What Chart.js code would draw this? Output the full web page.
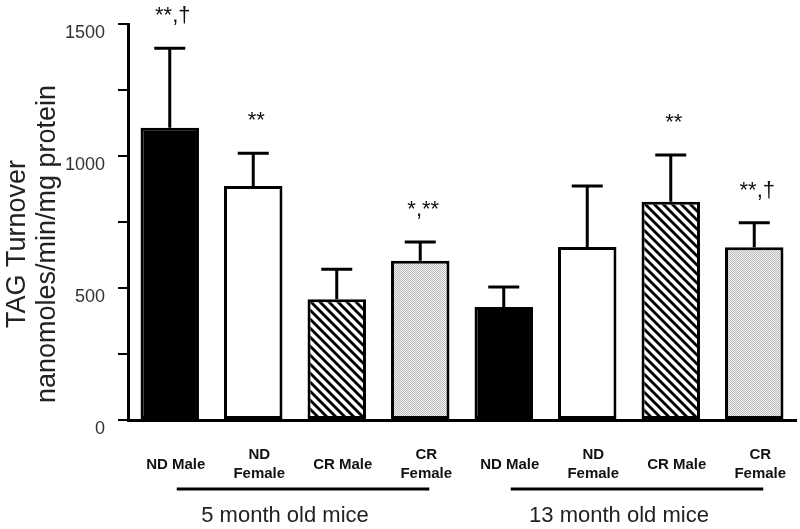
<!DOCTYPE html>
<html><head><meta charset="utf-8">
<script src="https://cdn.jsdelivr.net/npm/chart.js@4"></script>
<style>html,body{margin:0;padding:0;background:#fff}</style>
</head><body>
<canvas id="c" width="800" height="529"></canvas>
<script>
// ---- data ----
const categories = ['ND Male', ['ND', 'Female'], 'CR Male', ['CR', 'Female'], 'ND Male', ['ND', 'Female'], 'CR Male', ['CR', 'Female']];
const meanValues = [1107, 886, 457, 603, 428, 655, 827, 654];
const errorUpper = [1408, 1010, 571, 674, 504, 886, 1004, 747];
const significance = ['**,†', '**', '', '*,**', '', '', '**', '**,†'];
const groupLabels = ['5 month old mice', '13 month old mice'];
const groupFirst = [0, 4];
const groupLast = [3, 7];
const yTitleLines = ['TAG Turnover', 'nanomoles/min/mg protein'];
const yMin = 0, yMax = 1500, yMinorStep = 250, yLabelStep = 500;

// ---- styling ----
const FONT = '"Liberation Sans", Arial, Helvetica, sans-serif';

function hatchPattern() {
  const s = 9, c = document.createElement('canvas');
  c.width = s; c.height = s;
  const g = c.getContext('2d');
  g.fillStyle = '#fff'; g.fillRect(0, 0, s, s);
  g.strokeStyle = '#000'; g.lineWidth = 2.8;
  for (const k of [-s, 0, s]) {
    g.beginPath(); g.moveTo(-2, k - 2); g.lineTo(s + 2, k + s + 2); g.stroke();
  }
  return g.createPattern(c, 'repeat');
}
function dotPattern() {
  const c = document.createElement('canvas');
  c.width = 2; c.height = 2;
  const g = c.getContext('2d');
  g.fillStyle = '#f1f1f1'; g.fillRect(0, 0, 2, 2);
  g.fillStyle = '#bcbcbc'; g.fillRect(0, 0, 1, 1); g.fillRect(1, 1, 1, 1);
  return g.createPattern(c, 'repeat');
}
const kindFills = ['#000000', '#ffffff', hatchPattern(), dotPattern()];
const barFills = categories.map((_, i) => kindFills[i % 4]);

const errorBars = {
  id: 'errorBars',
  afterDatasetsDraw(chart) {
    const ctx = chart.ctx, meta = chart.getDatasetMeta(0), y = chart.scales.y;
    ctx.save();
    ctx.strokeStyle = '#000'; ctx.lineWidth = 3; ctx.lineCap = 'butt';
    meta.data.forEach((bar, i) => {
      const top = y.getPixelForValue(errorUpper[i]);
      ctx.beginPath();
      ctx.moveTo(bar.x, bar.y); ctx.lineTo(bar.x, top);
      ctx.moveTo(bar.x - 15.5, top); ctx.lineTo(bar.x + 15.5, top);
      ctx.stroke();
    });
    ctx.restore();
  }
};

const annotations = {
  id: 'annotations',
  afterDraw(chart) {
    const ctx = chart.ctx, meta = chart.getDatasetMeta(0), x = chart.scales.x, y = chart.scales.y;
    ctx.save();
    // significance marks
    ctx.fillStyle = '#111';
    ctx.font = '22px ' + FONT;
    ctx.textAlign = 'center'; ctx.textBaseline = 'alphabetic';
    meta.data.forEach((bar, i) => {
      if (!significance[i]) return;
      const top = y.getPixelForValue(errorUpper[i]);
      ctx.fillText(significance[i], bar.x + 3, top - 26);
    });
    // group lines and labels
    groupLabels.forEach((lab, g) => {
      const x0 = x.getPixelForValue(groupFirst[g]) + 7;
      const x1 = x.getPixelForValue(groupLast[g]) + 9;
      ctx.strokeStyle = '#000'; ctx.lineWidth = 3;
      ctx.beginPath(); ctx.moveTo(x0, 489); ctx.lineTo(x1, 489); ctx.stroke();
      ctx.fillStyle = '#222';
      ctx.font = '22px ' + FONT;
      ctx.textAlign = 'center'; ctx.textBaseline = 'middle';
      ctx.fillText(lab, (x0 + x1) / 2 - 18, 516);
    });
    // y axis title
    ctx.fillStyle = '#222';
    ctx.font = '27px ' + FONT;
    ctx.textAlign = 'center'; ctx.textBaseline = 'alphabetic';
    const cy = 244;
    [25, 55].forEach((bx, k) => {
      ctx.save();
      ctx.translate(bx, cy);
      ctx.rotate(-Math.PI / 2);
      ctx.fillText(yTitleLines[k], 0, 0);
      ctx.restore();
    });
    ctx.restore();
  }
};

new Chart(document.getElementById('c'), {
  type: 'bar',
  data: {
    labels: categories,
    datasets: [{
      data: meanValues,
      backgroundColor: barFills,
      borderColor: '#000',
      borderWidth: 3,
      borderSkipped: false,
      barPercentage: 0.7,
      categoryPercentage: 1
    }]
  },
  options: {
    responsive: false,
    devicePixelRatio: 1,
    animation: false,
    layout: { padding: { top: 24, right: 4, left: 0, bottom: 0 } },
    plugins: { legend: { display: false }, tooltip: { enabled: false } },
    scales: {
      x: {
        offset: true,
        grid: { display: false },
        border: { display: true, color: '#000', width: 3 },
        ticks: {
          autoSkip: false, maxRotation: 0, minRotation: 0,
          crossAlign: 'center', padding: 27, labelOffset: 6,
          color: '#111',
          font: { family: FONT, size: 15, weight: 'bold', lineHeight: 1.27 }
        },
        afterFit(s) { s.height = 109; s.paddingLeft = 0; s.paddingRight = 0; }
      },
      y: {
        min: yMin, max: yMax,
        grid: { drawOnChartArea: false, drawTicks: true, tickLength: 10, color: '#000', lineWidth: 2 },
        border: { display: true, color: '#000', width: 3 },
        ticks: {
          stepSize: yMinorStep, padding: 13, labelOffset: 9,
          color: '#333',
          font: { family: FONT, size: 18 },
          callback: v => (v % yLabelStep === 0 ? String(v) : '')
        },
        afterFit(s) { s.width = 128; s.paddingTop = 0; s.paddingBottom = 0; }
      }
    }
  },
  plugins: [errorBars, annotations]
});
</script>
</body></html>
